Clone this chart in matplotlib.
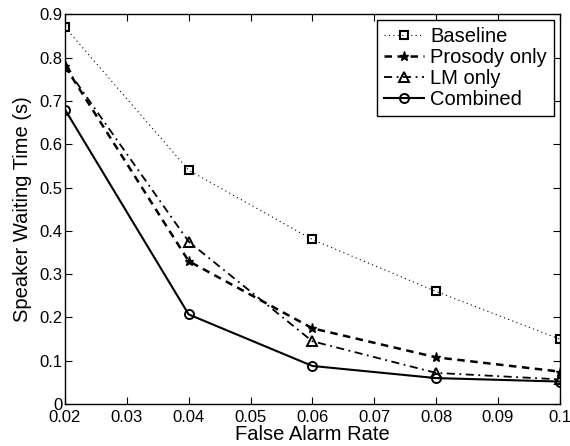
import matplotlib.pyplot as plt

plt.rcParams['font.family'] = ['Liberation Sans', 'DejaVu Sans']

# Data
far = [0.02, 0.04, 0.06, 0.08, 0.10]
baseline = [0.87, 0.54, 0.38, 0.26, 0.15]
prosody = [0.78, 0.33, 0.175, 0.108, 0.075]
lm_only = [0.78, 0.375, 0.145, 0.072, 0.057]
combined = [0.68, 0.207, 0.088, 0.06, 0.052]

fig = plt.figure(figsize=(5.7, 4.46), dpi=100)
ax = fig.add_axes([0.114, 0.094, 0.868, 0.874])

ax.plot(far, baseline, marker='s', ls=(0, (1, 3)), color='k', lw=0.8, ms=6,
        mfc='none', mew=1.5, label='Baseline')
ax.plot(far, prosody, marker='*', ls=(0, (3, 2.2)), color='k', lw=1.8, ms=6.5,
        label='Prosody only')
ax.plot(far, lm_only, marker='^', ls=(0, (4.5, 2.5, 1, 2.5)), color='k', lw=1.3, ms=7,
        mfc='none', mew=1.4, label='LM only')
ax.plot(far, combined, '-o', color='k', lw=1.5, ms=6.5, mfc='none', mew=1.4,
        label='Combined')

ax.set_xlim(0.02, 0.1)
ax.set_ylim(0, 0.9)
ax.set_xticks([0.02, 0.03, 0.04, 0.05, 0.06, 0.07, 0.08, 0.09, 0.1])
ax.set_xticklabels(['0.02', '0.03', '0.04', '0.05', '0.06', '0.07', '0.08', '0.09', '0.1'])
ax.set_yticks([0, 0.1, 0.2, 0.3, 0.4, 0.5, 0.6, 0.7, 0.8, 0.9])
ax.set_yticklabels(['0', '0.1', '0.2', '0.3', '0.4', '0.5', '0.6', '0.7', '0.8', '0.9'])
ax.tick_params(direction='in', top=True, right=True, labelsize=12, length=5, pad=2)
ax.tick_params(axis='x', pad=4)
ax.set_xlabel('False Alarm Rate', fontsize=14.5, labelpad=0)
ax.set_ylabel('Speaker Waiting Time (s)', fontsize=14.5, labelpad=5)
for s in ax.spines.values():
    s.set_linewidth(1.0)

leg = ax.legend(loc='upper right', fontsize=14.5, fancybox=False, framealpha=1,
                edgecolor='k', handlelength=2.0, borderpad=0.35, labelspacing=0.1,
                handletextpad=0.3, borderaxespad=0.3)
leg.get_frame().set_linewidth(1.0)

fig.savefig('out.png', dpi=100)
